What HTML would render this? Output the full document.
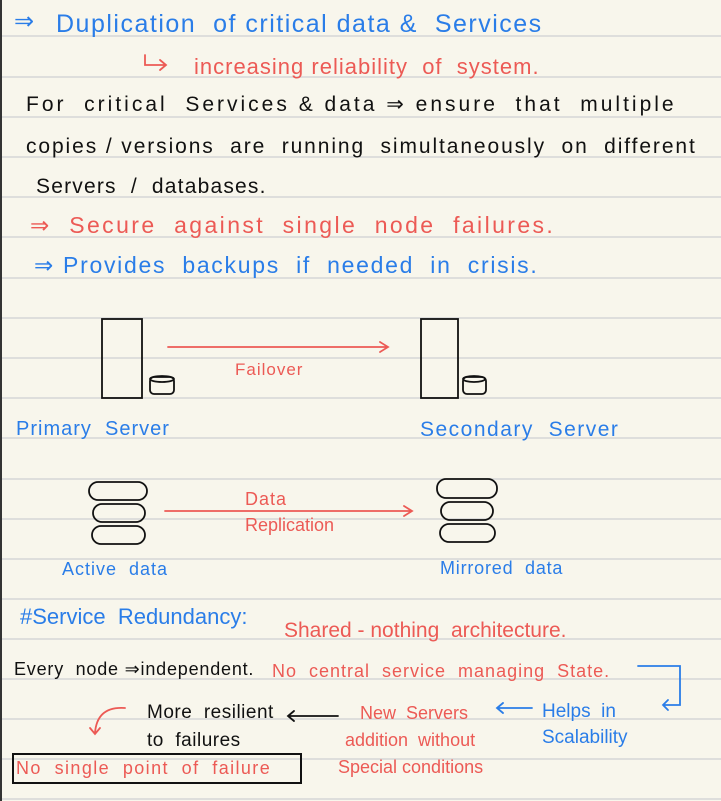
<!DOCTYPE html>
<html><head><meta charset="utf-8"><style>
html,body{margin:0;padding:0}
body{width:721px;height:801px;position:relative;overflow:hidden;background:#f8f6ec;font-family:"Liberation Sans",sans-serif}
.t{position:absolute;white-space:nowrap;line-height:1}
.b{color:#2a7de8}.r{color:#ec5a55}.k{color:#111}
</style></head><body>
<svg width="721" height="801" style="position:absolute;left:0;top:0">
<g stroke="#d6d6d6" stroke-width="1.5">
<line x1="0" x2="721" y1="36" y2="36"/><line x1="0" x2="721" y1="77" y2="77"/><line x1="0" x2="721" y1="117" y2="117"/><line x1="0" x2="721" y1="157" y2="157"/><line x1="0" x2="721" y1="197" y2="197"/><line x1="0" x2="721" y1="237" y2="237"/><line x1="0" x2="721" y1="278" y2="278"/><line x1="0" x2="721" y1="318" y2="318"/><line x1="0" x2="721" y1="358" y2="358"/><line x1="0" x2="721" y1="398" y2="398"/><line x1="0" x2="721" y1="438" y2="438"/><line x1="0" x2="721" y1="479" y2="479"/><line x1="0" x2="721" y1="519" y2="519"/><line x1="0" x2="721" y1="559" y2="559"/><line x1="0" x2="721" y1="599" y2="599"/><line x1="0" x2="721" y1="639" y2="639"/><line x1="0" x2="721" y1="679" y2="679"/><line x1="0" x2="721" y1="719" y2="719"/><line x1="0" x2="721" y1="759" y2="759"/><line x1="0" x2="721" y1="799" y2="799"/>
</g>
<line x1="1" x2="1" y1="0" y2="801" stroke="#333" stroke-width="2"/>
<g fill="none" stroke-width="1.8" stroke-linecap="round">
<path d="M145 55 v10 h20 M160 60 l6 5 -6 5" stroke="#ec5a55"/>
<rect x="102" y="319" width="40" height="79" stroke="#111"/>
<rect x="421" y="319" width="37" height="79" stroke="#111"/>
<rect x="150" y="377" width="24" height="17" rx="4" stroke="#111"/><ellipse cx="162" cy="379" rx="12" ry="3" stroke="#111"/>
<rect x="463" y="377" width="23" height="17" rx="4" stroke="#111"/><ellipse cx="474" cy="379" rx="11" ry="3" stroke="#111"/>
<path d="M168 347 H388 M380 342 l8 5 -8 5" stroke="#ec5a55"/>
<path d="M165 511 H412 M404 506 l8 5 -8 5" stroke="#ec5a55"/>
<g stroke="#111">
<rect x="89" y="482" width="58" height="18" rx="9"/><rect x="93" y="504" width="52" height="18" rx="9"/><rect x="92" y="526" width="53" height="18" rx="9"/>
<rect x="437" y="479" width="60" height="19" rx="9"/><rect x="441" y="502" width="52" height="18" rx="9"/><rect x="440" y="524" width="55" height="18" rx="9"/>
</g>
<path d="M638 666 h42 v39 h-17 M668 700 l-5 5 5 5" stroke="#2a7de8"/>
<path d="M532 708 h-35 M503 703 l-6 5 6 5" stroke="#2a7de8"/>
<path d="M338 716 h-50 M294 711 l-6 5 6 5" stroke="#111"/>
<path d="M125 708 q-28 -2 -30 25 M90 728 l5 6 5 -6" stroke="#ec5a55"/>
<rect x="13" y="754" width="288" height="29" stroke="#111" stroke-width="2"/>
</g>
</svg>
<div class="t b" style="left:14px;top:10px;font-size:24px">⇒</div>
<div class="t b" style="left:56px;top:12px;font-size:25px;letter-spacing:1.5px">Duplication &nbsp;of critical data &amp; &nbsp;Services</div>
<div class="t r" style="left:194px;top:56px;font-size:22px;letter-spacing:1px">increasing reliability &nbsp;of &nbsp;system.</div>
<div class="t k" style="left:26px;top:94px;font-size:21px;letter-spacing:3px">For &nbsp;critical &nbsp;Services &amp; data ⇒ ensure &nbsp;that &nbsp;multiple</div>
<div class="t k" style="left:26px;top:136px;font-size:21px;letter-spacing:1.9px">copies / versions &nbsp;are &nbsp;running &nbsp;simultaneously &nbsp;on &nbsp;different</div>
<div class="t k" style="left:36px;top:176px;font-size:21px;letter-spacing:1.2px">Servers &nbsp;/ &nbsp;databases.</div>
<div class="t r" style="left:30px;top:214px;font-size:23px;letter-spacing:2.4px">⇒ &nbsp;Secure &nbsp;against &nbsp;single &nbsp;node &nbsp;failures.</div>
<div class="t b" style="left:34px;top:254px;font-size:23px;letter-spacing:1.7px">⇒ Provides &nbsp;backups &nbsp;if &nbsp;needed &nbsp;in &nbsp;crisis.</div>
<div class="t r" style="left:235px;top:361px;font-size:17px;letter-spacing:1px">Failover</div>
<div class="t b" style="left:16px;top:419px;font-size:20px;letter-spacing:1px">Primary &nbsp;Server</div>
<div class="t b" style="left:420px;top:419px;font-size:21px;letter-spacing:1.5px">Secondary &nbsp;Server</div>
<div class="t r" style="left:245px;top:490px;font-size:18px;letter-spacing:1px">Data</div>
<div class="t r" style="left:245px;top:516px;font-size:18px">Replication</div>
<div class="t b" style="left:62px;top:560px;font-size:18px;letter-spacing:1px">Active &nbsp;data</div>
<div class="t b" style="left:440px;top:559px;font-size:18px;letter-spacing:0.8px">Mirrored &nbsp;data</div>
<div class="t b" style="left:20px;top:606px;font-size:22px">#Service &nbsp;Redundancy:</div>
<div class="t r" style="left:284px;top:620px;font-size:21px">Shared - nothing &nbsp;architecture.</div>
<div class="t k" style="left:14px;top:660px;font-size:18px;letter-spacing:0.8px">Every &nbsp;node ⇒independent.</div>
<div class="t r" style="left:272px;top:662px;font-size:18px;letter-spacing:1px">No &nbsp;central &nbsp;service &nbsp;managing &nbsp;State.</div>
<div class="t k" style="left:147px;top:703px;font-size:19px;letter-spacing:0.5px">More &nbsp;resilient</div>
<div class="t k" style="left:147px;top:731px;font-size:19px;letter-spacing:0.5px">to &nbsp;failures</div>
<div class="t r" style="left:360px;top:704px;font-size:18px">New &nbsp;Servers</div>
<div class="t r" style="left:345px;top:731px;font-size:18px">addition &nbsp;without</div>
<div class="t r" style="left:338px;top:758px;font-size:18px">Special conditions</div>
<div class="t b" style="left:542px;top:702px;font-size:19px">Helps &nbsp;in</div>
<div class="t b" style="left:542px;top:728px;font-size:19px">Scalability</div>
<div class="t r" style="left:16px;top:759px;font-size:18px;letter-spacing:1.4px">No &nbsp;single &nbsp;point &nbsp;of &nbsp;failure</div>
</body></html>
